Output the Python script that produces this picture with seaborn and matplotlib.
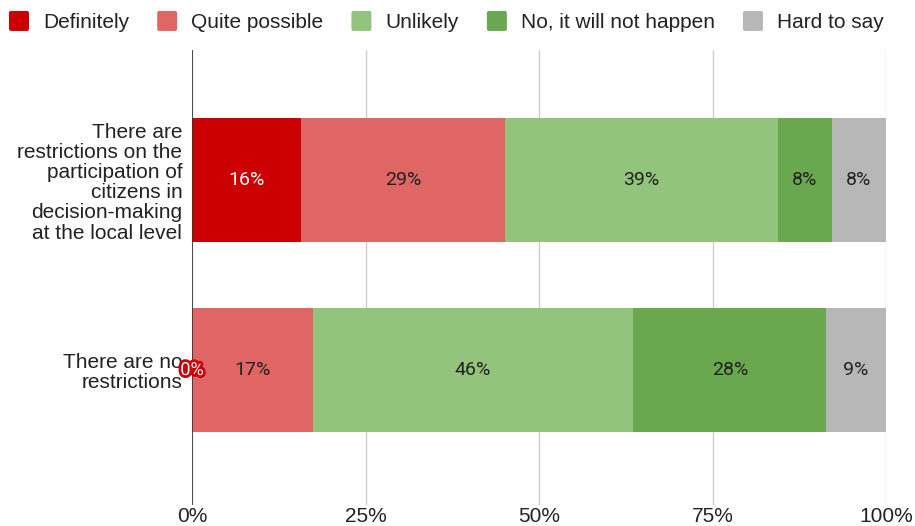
import matplotlib
matplotlib.use("Agg")
import matplotlib.pyplot as plt
import matplotlib.patheffects as pe
from matplotlib.patches import Patch, FancyBboxPatch
from matplotlib.legend_handler import HandlerPatch
import seaborn as sns
import pandas as pd
import numpy as np

categories = ["There are\nrestrictions on the\nparticipation of\ncitizens in\ndecision-making\nat the local level",
              "There are no\nrestrictions"]
series = ["Definitely", "Quite possible", "Unlikely", "No, it will not happen", "Hard to say"]
definitely = [15.7, 0.0]
quite_possible = [29.4, 17.4]
unlikely = [39.3, 46.2]
no_not_happen = [7.8, 27.8]
hard_to_say = [7.8, 8.6]
colors = ["#cc0000", "#e06666", "#93c47d", "#6aa84f", "#b7b7b7"]
text_colors = ["white", "#222222", "#222222", "#222222", "#222222"]
xticks = [0, 25, 50, 75, 100]
xticklabels = ["0%", "25%", "50%", "75%", "100%"]

sns.set_theme(style="white")
plt.rcParams['font.family'] = ['Liberation Sans', 'DejaVu Sans']

values = np.array([definitely, quite_possible, unlikely, no_not_happen, hard_to_say])
cum = np.cumsum(values, axis=0)

fig = plt.figure(figsize=(9.15, 5.26), dpi=100)
ax = fig.add_axes([192/915, 1-505/526, (886-192)/915, (505-50)/526])

for i in range(len(series) - 1, -1, -1):
    df = pd.DataFrame({"cat": categories, "cum": cum[i]})
    sns.barplot(data=df, y="cat", x="cum", orient="h", color=colors[i],
                saturation=1, width=0.65, ax=ax, zorder=2, linewidth=0)

for j in range(len(categories)):
    for i in range(len(series)):
        v = values[i, j]
        mid = cum[i, j] - v / 2
        label = f"{v:.0f}%"
        if v == 0:
            ax.text(mid, j, label, ha="center", va="center", color="white",
                    fontsize=13, family="Roboto", zorder=7,
                    path_effects=[pe.withStroke(linewidth=4, foreground="#cc0000")])
        else:
            ax.text(mid, j, label, ha="center", va="center", color=text_colors[i],
                    fontsize=14, family="Roboto", zorder=5)

ax.set_xlim(0, 100)
ax.set_ylim(1.71, -0.684)
ax.set_xticks(xticks)
ax.set_xticklabels(xticklabels, fontsize=15, color="#222222")
ax.tick_params(axis="x", length=0, pad=1.5)
ax.tick_params(axis="y", length=0, pad=7)
ax.set_yticks([0, 1])
ax.set_yticklabels(categories, fontsize=15, color="#222222", linespacing=1.08)
ax.set_xlabel("")
ax.set_ylabel("")
for s in ax.spines.values():
    s.set_visible(False)
ax.xaxis.grid(True, color="#cccccc", linewidth=1, zorder=0)
ax.set_axisbelow(True)
ax.axvline(0, color="#333333", linewidth=1.2, zorder=6)


class RoundSquare(HandlerPatch):
    def create_artists(self, legend, orig_handle, xdescent, ydescent, width, height, fontsize, trans):
        size = 14.4  # points (~20 px)
        x0 = -xdescent + (width - size) / 2
        y0 = -ydescent + (height - size) / 2
        p = FancyBboxPatch((x0, y0), size, size, boxstyle="round,pad=0,rounding_size=1.5",
                           facecolor=orig_handle.get_facecolor(), edgecolor="none",
                           transform=trans)
        return [p]


handles = [Patch(facecolor=c, edgecolor="none") for c in colors]
fig.legend(handles, series, loc="center left", bbox_to_anchor=(9/915, 1-22/526), ncol=5,
           frameon=False, fontsize=15, handlelength=0.96, handleheight=0.96,
           handletextpad=0.67, columnspacing=1.35, borderaxespad=0, borderpad=0,
           labelcolor="#222222", handler_map={Patch: RoundSquare()})

fig.savefig("out.png", dpi=100)
